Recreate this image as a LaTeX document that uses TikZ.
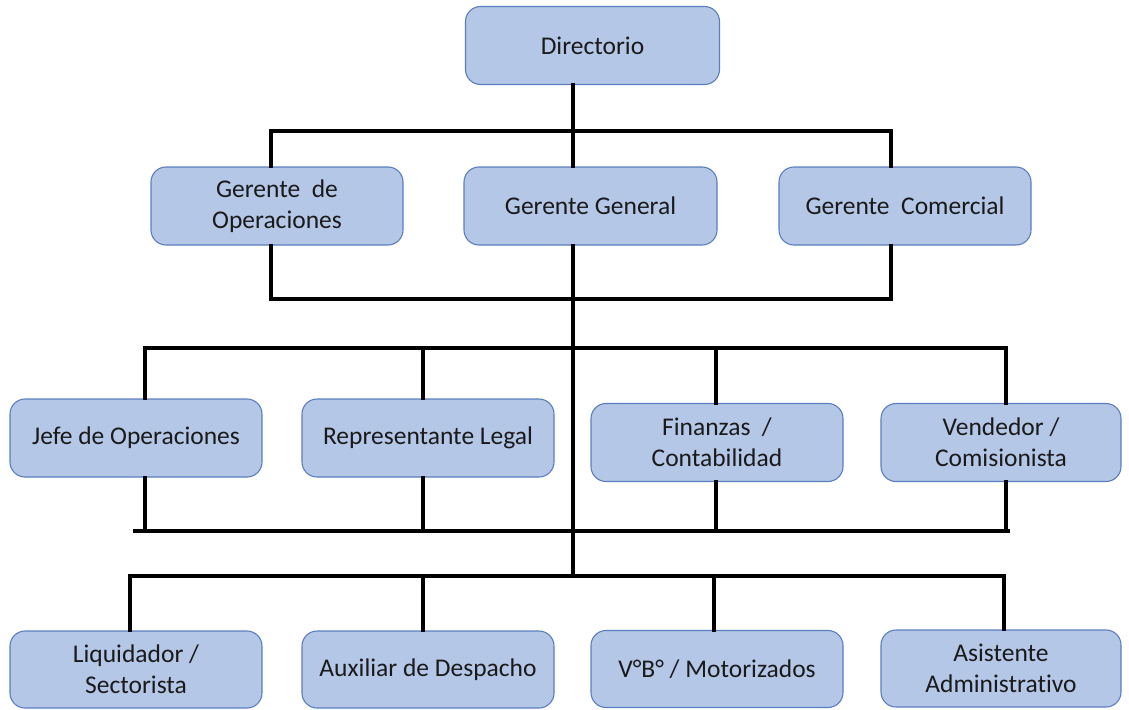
\documentclass[tikz,border=0pt]{standalone}
\usepackage{fontspec}
\setmainfont{Carlito}[Ligatures=NoCommon]
\definecolor{boxfill}{HTML}{B4C7E7}
\definecolor{boxline}{HTML}{5A7EC0}
\definecolor{txt}{HTML}{1A1A1A}
\begin{document}
\begin{tikzpicture}[x=1pt,y=-1pt,
  box/.style={draw=boxline,line width=1.1pt,fill=boxfill,rounded corners=15pt,
    minimum width=252pt,minimum height=78pt,inner sep=0pt,align=center,
    text=txt,font=\fontsize{25.5}{31}\selectfont},
  conn/.style={line width=4pt,black,line cap=rect}]
\useasboundingbox (0,0) rectangle (1129,709);
% nodes
\node[box,minimum width=254pt] (Dir) at (592.5,45.5) {Directorio};
\node[box] (GO) at (277,206) {Gerente\ \ de\\Operaciones};
\node[box,minimum width=253pt] (GG) at (590.5,206) {Gerente General};
\node[box] (GC) at (905,206) {Gerente\ \ Comercial};
\node[box] (JO) at (136,438) {Jefe de Operaciones};
\node[box] (RL) at (428,438) {Representante Legal};
\node[box] (FC) at (717,442.5) {Finanzas\ \ /\\Contabilidad};
\node[box,minimum width=240pt] (VC) at (1001,442.5) {Vendedor /\\Comisionista};
\node[box,minimum height=77pt] (LS) at (136,669.5) {Liquidador /\\Sectorista};
\node[box,minimum height=77pt] (AD) at (428,669.5) {Auxiliar de Despacho};
\node[box,minimum height=77pt] (VB) at (717,669) {V°B° / Motorizados};
\node[box,minimum width=240pt,minimum height=77pt] (AA) at (1001,668.5) {Asistente\\Administrativo};
% bus coordinates
\coordinate (m1) at (573,131);
\coordinate (l1) at (271,131);
\coordinate (r1) at (891,131);
\coordinate (l2) at (271,299);
\coordinate (r2) at (891,299);
\coordinate (c3a) at (145,348);
\coordinate (c3b) at (423,348);
\coordinate (c3c) at (716,348);
\coordinate (c3d) at (1006,348);
\coordinate (e3l) at (135,531);
\coordinate (e3r) at (1008,531);
\coordinate (m4) at (573,576);
\coordinate (c4a) at (130,576);
\coordinate (c4b) at (423,576);
\coordinate (c4c) at (714,576);
\coordinate (c4d) at (1004,576);
% connectors level 1
\draw[conn] (Dir.south -| m1) -- (m1);
\draw[conn] (GO.north -| l1) -- (l1) -- (r1) -- (GC.north -| r1);
\draw[conn] (m1) -- (GG.north -| m1);
% level 2
\draw[conn] (GO.south -| l1) -- (l2) -- (r2) -- (GC.south -| r1);
\draw[conn] (GG.south -| m1) -- (m4);
% level 3
\draw[conn] (JO.north -| c3a) -- (c3a) -- (c3d) -- (VC.north -| c3d);
\draw[conn] (c3b) -- (RL.north -| c3b);
\draw[conn] (c3c) -- (FC.north -| c3c);
\draw[conn] (e3l) -- (e3r);
\draw[conn] (JO.south -| c3a) -- (c3a |- e3l);
\draw[conn] (RL.south -| c3b) -- (c3b |- e3l);
\draw[conn] (FC.south -| c3c) -- (c3c |- e3l);
\draw[conn] (VC.south -| c3d) -- (c3d |- e3l);
% level 4
\draw[conn] (LS.north -| c4a) -- (c4a) -- (c4d) -- (AA.north -| c4d);
\draw[conn] (c4b) -- (AD.north -| c4b);
\draw[conn] (c4c) -- (VB.north -| c4c);
\end{tikzpicture}
\end{document}
